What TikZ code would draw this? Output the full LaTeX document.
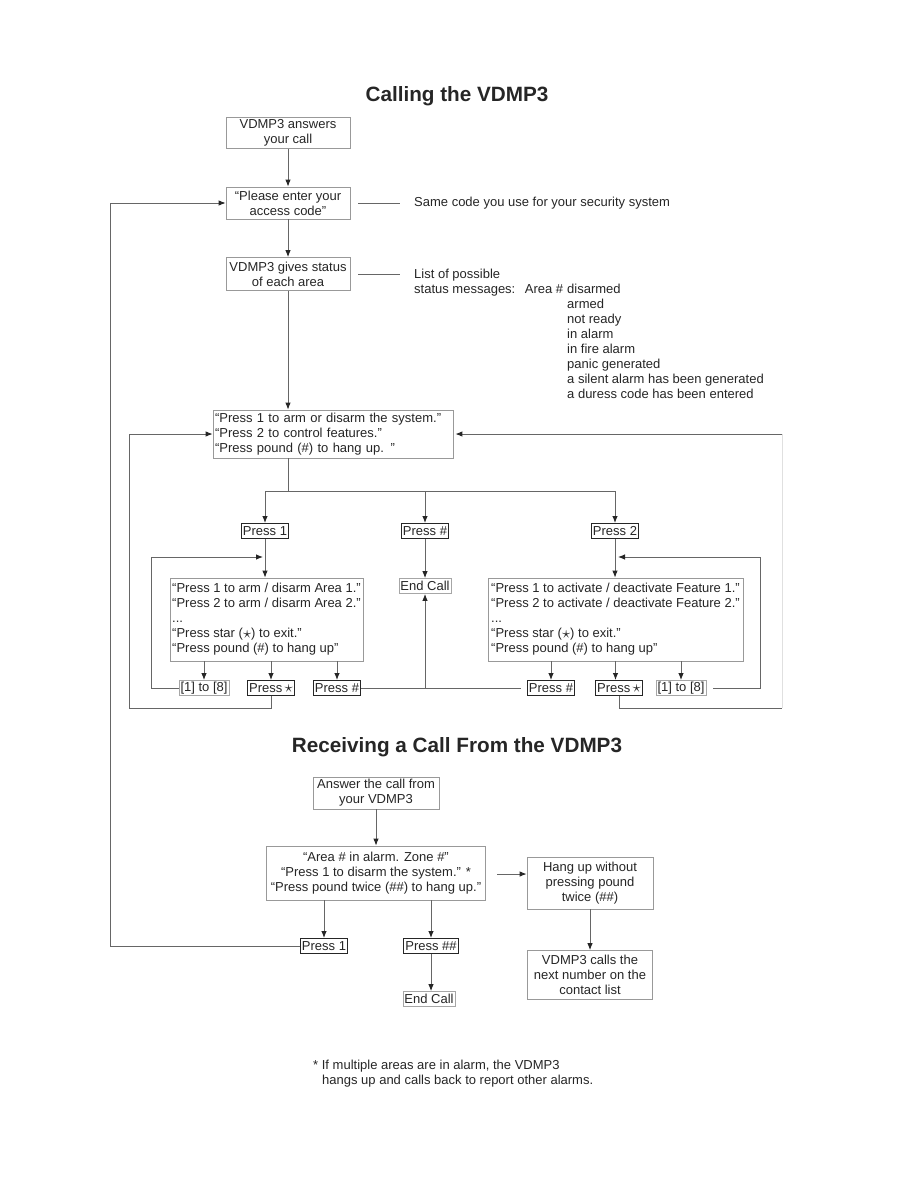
\documentclass[tikz,border=0pt]{standalone}
\usepackage{fontspec}
\setmainfont{Liberation Sans}
\usetikzlibrary{arrows.meta}
\newcommand{\mystar}{\raisebox{-0.3pt}{\scalebox{1.4}{$\star$}}}
\begin{document}
\begin{tikzpicture}[x=1pt,y=-1pt,
  every node/.style={font=\fontsize{13}{15}\selectfont, text=black!85},
  box/.style={draw=black!40, line width=0.8pt, align=center, inner sep=2pt},
  pbox/.style={draw=black!85, line width=1pt, inner sep=1.5pt, minimum height=15pt},
  lbox/.style={draw=black!35, line width=0.8pt, inner sep=1.5pt, minimum height=15pt},
  txt/.style={inner sep=0pt},
  conn/.style={draw=black!60, line width=0.9pt},
  arr/.style={conn, -{Latex[length=7pt,width=5.5pt,color=black!85]}},
  ttl/.style={font=\fontsize{20.7}{24}\selectfont\bfseries}
]
\fill[white] (0,0) rectangle (918,1188);
\useasboundingbox (0,0) rectangle (918,1188);

% ---------- Calling the VDMP3 ----------
\node[ttl] (t1) at (457,96) {Calling the VDMP3};
\node[box, minimum width=124pt, minimum height=31pt] (b1) at (288,133) {VDMP3 answers\\your call};
\node[box, minimum width=124pt, minimum height=32pt] (b2) at (288,203) {“Please enter your\\access code”};
\node[box, minimum width=124pt, minimum height=33pt] (b3) at (288,274) {VDMP3 gives status\\of each area};

\node[txt, anchor=west] (same) at (414,203) {Same code you use for your security system};
\node[txt, anchor=base west] (lp) at (414,278) {List of possible};
\node[txt, anchor=base west] (sm) at (414,293) {status messages:};
\node[txt, anchor=base east] (ar) at (563.4,293) {Area \#};
\node[txt, anchor=base west] (s1) at (567,293) {disarmed};
\node[txt, anchor=base west] (s2) at (567,308) {armed};
\node[txt, anchor=base west] (s3) at (567,323) {not ready};
\node[txt, anchor=base west] (s4) at (567,338) {in alarm};
\node[txt, anchor=base west] (s5) at (567,353) {in fire alarm};
\node[txt, anchor=base west] (s6) at (567,368) {panic generated};
\node[txt, anchor=base west] (s7) at (567,383) {a silent alarm has been generated};
\node[txt, anchor=base west] (s8) at (567,398) {a duress code has been entered};

\draw[conn] ([xshift=8pt]b2.east) -- ([xshift=-14pt]same.west);
\draw[conn] ([xshift=8pt]b3.east) -- ([xshift=50pt]b3.east);

\node[box, align=left, text width=236pt, minimum height=48pt, inner sep=2pt] (menu) at (333,434)
  {“Press 1 to arm or disarm the system.”\\“Press 2 to control features.”\\“Press pound (\#) to hang up. ”};

\draw[arr] (b1) -- (b2);
\draw[arr] (b2) -- (b3);
\draw[arr] (b3.south) -- (b3.south |- menu.north);

\node[pbox] (P1) at (265,531) {Press 1};
\node[pbox] (PH) at (425,531) {Press \#};
\node[pbox] (P2) at (615,531) {Press 2};
\node[lbox] (EC) at (425,586) {End Call};

\coordinate (br) at (288,491);
\draw[conn] (menu.south -| b3.south) -- (br);
\draw[conn] (br -| P1) -- (br -| P2);
\draw[arr] (br -| P1) -- (P1.north);
\draw[arr] (br -| PH) -- (PH.north);
\draw[arr] (br -| P2) -- (P2.north);
\draw[arr] (PH) -- (EC);

\node[box, align=left, minimum width=193pt, minimum height=83pt, inner sep=1.5pt] (M1) at (266.5,619.5)
  {“Press 1 to arm / disarm Area 1.”\\“Press 2 to arm / disarm Area 2.”\\...\\“Press star (\mystar) to exit.”\\“Press pound (\#) to hang up”};
\node[box, align=left, minimum width=255pt, minimum height=83pt, inner sep=1.5pt] (M2) at (615.5,619.5)
  {“Press 1 to activate / deactivate Feature 1.”\\“Press 2 to activate / deactivate Feature 2.”\\...\\“Press star (\mystar) to exit.”\\“Press pound (\#) to hang up”};

\draw[arr] (P1.south) -- (P1.south |- M1.north);
\draw[arr] (P2.south) -- (P2.south |- M2.north);

\node[lbox] (La) at (204,688) {[1] to [8]};
\node[pbox] (Sa) at (271,688) {Press\,\mystar};
\node[pbox] (Ha) at (337,688) {Press \#};
\node[pbox] (Hb) at (551,688) {Press \#};
\node[pbox] (Sb) at (619,688) {Press\,\mystar};
\node[lbox] (Lb) at (681,688) {[1] to [8]};

\draw[arr] (La.north |- M1.south) -- (La.north);
\draw[arr] (Sa.north |- M1.south) -- (Sa.north);
\draw[arr] (Ha.north |- M1.south) -- (Ha.north);
\draw[arr] (Hb.north |- M2.south) -- (Hb.north);
\draw[arr] (M2.south) -- (M2.south |- Sb.north);
\draw[arr] (Lb.north |- M2.south) -- (Lb.north);

% loops inside menus
\coordinate (la1) at (151,557);
\coordinate (lt) at (263,557);
\draw[arr] (La.west) -| (la1) -- (lt);
\coordinate (rb1) at (760,557);
\coordinate (rt) at (618,557);
\draw[arr] ([xshift=7pt]Lb.east) -| (rb1) -- (rt);

% pound -> end call
\draw[conn] (Ha.east) -- ([xshift=-6pt]Hb.west);
\coordinate (ecb) at (425,688);
\draw[arr] (ecb) -- (EC.south);

% star -> back to main menu
\coordinate (i1) at (129,708);
\draw[arr] (Sa.south) |- (i1) |- (menu.west);
\coordinate (r1) at (782,708);
\coordinate (r2) at (782,434);
\draw[conn] (Sb.south) |- (r1);
\draw[draw=black!12, line width=0.8pt] (r1) -- (r2);
\draw[arr] (r2) -- ([xshift=2pt]menu.east);

% ---------- Receiving a Call ----------
\node[ttl] (t2) at (457,747) {Receiving a Call From the VDMP3};
\node[box, minimum width=126pt, minimum height=32pt] (A1) at (376,793) {Answer the call from\\your VDMP3};
\node[box, minimum width=219pt, minimum height=54pt] (A2) at (376,873)
  {“Area \# in alarm. Zone \#”\\“Press 1 to disarm the system.” *\\“Press pound twice (\#\#) to hang up.”};
\node[box, minimum width=126pt, minimum height=52pt] (H1) at (590,883) {Hang up without\\pressing pound\\twice (\#\#)};
\node[box, minimum width=125pt, minimum height=49pt] (H2) at (590,975) {VDMP3 calls the\\next number on the\\contact list};
\node[pbox] (BP1) at (324,946) {Press 1};
\node[pbox] (BPH) at (431,946) {Press \#\#};
\node[lbox] (BEC) at (429,999) {End Call};

\draw[arr] (A1) -- (A2);
\draw[arr] (A2.south -| BP1) -- (BP1.north);
\draw[arr] (A2.south -| BPH) -- (BPH.north);
\draw[arr] (BPH.south) -- (BPH.south |- BEC.north);
\coordinate (ah) at (497,874);
\draw[arr] (ah) -- (ah -| H1.west);
\draw[arr] (H1) -- (H2);

\coordinate (o1) at (110,946);
\draw[arr] (BP1.west) -- (o1) |- (b2.west);

\node[txt, anchor=base west] (fn1) at (313,1069) {* If multiple areas are in alarm, the VDMP3};
\node[txt, anchor=base west] (fn2) at (322,1084) {hangs up and calls back to report other alarms.};
\end{tikzpicture}
\end{document}
